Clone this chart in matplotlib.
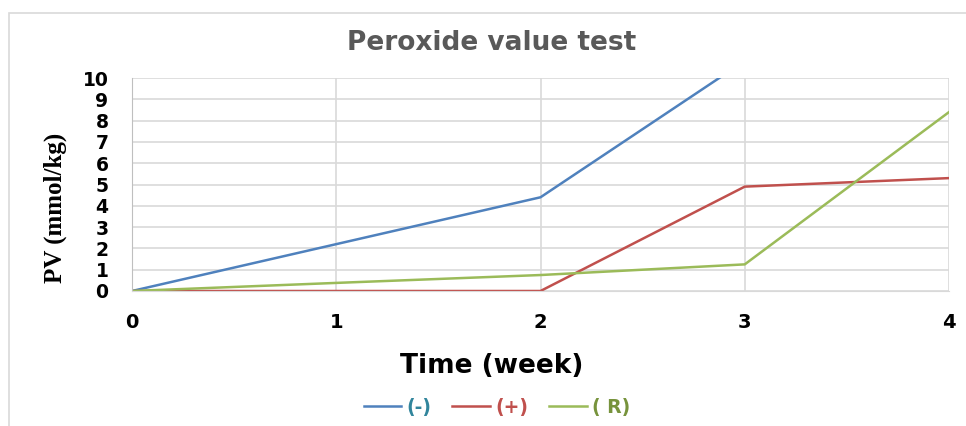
import matplotlib
matplotlib.use("Agg")
import matplotlib.pyplot as plt
from matplotlib.patches import Rectangle
from matplotlib.lines import Line2D

weeks = [0, 1, 2, 3, 4]
neg_ctrl = [0, 2.2, 4.4, 10.8, 12.5]
pos_ctrl = [0, 0, 0, 4.9, 5.3]
r_sample = [0, 0.38, 0.75, 1.25, 8.4]
series_labels = ["(-)", "(+)", "( R)"]
yticks = list(range(0, 11))

line_colors = ["#4F81BD", "#C0504D", "#9BBB59"]
text_colors = ["#31859C", "#C0504D", "#77933C"]

W, H = 966, 426
fig = plt.figure(figsize=(W / 100, H / 100), dpi=100)
fig.patch.set_facecolor("white")

# outer chart frame
fig.patches.append(Rectangle((9 / W, -0.1), 1.2, (H - 13) / H + 0.1,
                             transform=fig.transFigure, fill=False,
                             edgecolor="#D9D9D9", linewidth=1.2))

left, right, top, bottom = 132, 949, 78, 291
ax = fig.add_axes([left / W, (H - bottom) / H, (right - left) / W, (bottom - top) / H])

for vals, c in zip([neg_ctrl, pos_ctrl, r_sample], line_colors):
    ax.plot(weeks, vals, color=c, linewidth=1.8, solid_joinstyle="miter", clip_on=True)

ax.set_xlim(0, 4)
ax.set_ylim(0, 10)
ax.set_xticks(weeks)
ax.set_yticks(yticks)
ax.grid(True, color="#D9D9D9", linewidth=1.2)
ax.set_axisbelow(True)
for s in ["top", "right"]:
    ax.spines[s].set_visible(False)
ax.spines["left"].set_color("#BFBFBF")
ax.spines["bottom"].set_color("#D9D9D9")
ax.tick_params(length=0)
ax.tick_params(axis="x", pad=16)
ax.tick_params(axis="y", pad=17)

for lab in ax.get_xticklabels() + ax.get_yticklabels():
    lab.set_fontfamily("DejaVu Sans")
    lab.set_fontweight("bold")
    lab.set_color("black")
for lab in ax.get_xticklabels():
    lab.set_fontsize(14)
for lab in ax.get_yticklabels():
    lab.set_fontsize(13.5)

fig.text(492 / W, 1 - 50 / H, "Peroxide value test", ha="center", va="baseline",
         fontsize=19, fontweight="bold", color="#595959", family="DejaVu Sans")
fig.text(492 / W, 1 - 373 / H, "Time (week)", ha="center", va="baseline",
         fontsize=19, fontweight="bold", color="black", family="DejaVu Sans")
fig.text(55 / W, 1 - 208 / H, "PV (mmol/kg)", ha="center", va="center",
         rotation=90, fontsize=18, fontweight="bold", color="black",
         family="Liberation Serif")

handles = [Line2D([0], [0], color=c, linewidth=1.8) for c in line_colors]
leg = fig.legend(handles, series_labels, loc="center", bbox_to_anchor=(497 / W, 1 - 407 / H),
                 ncol=3, frameon=False, handlelength=2.0, handletextpad=0.3,
                 columnspacing=1.1, borderpad=0, borderaxespad=0,
                 prop={"family": "DejaVu Sans", "weight": "bold", "size": 13.5})
for t, c in zip(leg.get_texts(), text_colors):
    t.set_color(c)

fig.savefig("out.png", dpi=100, facecolor="white")
